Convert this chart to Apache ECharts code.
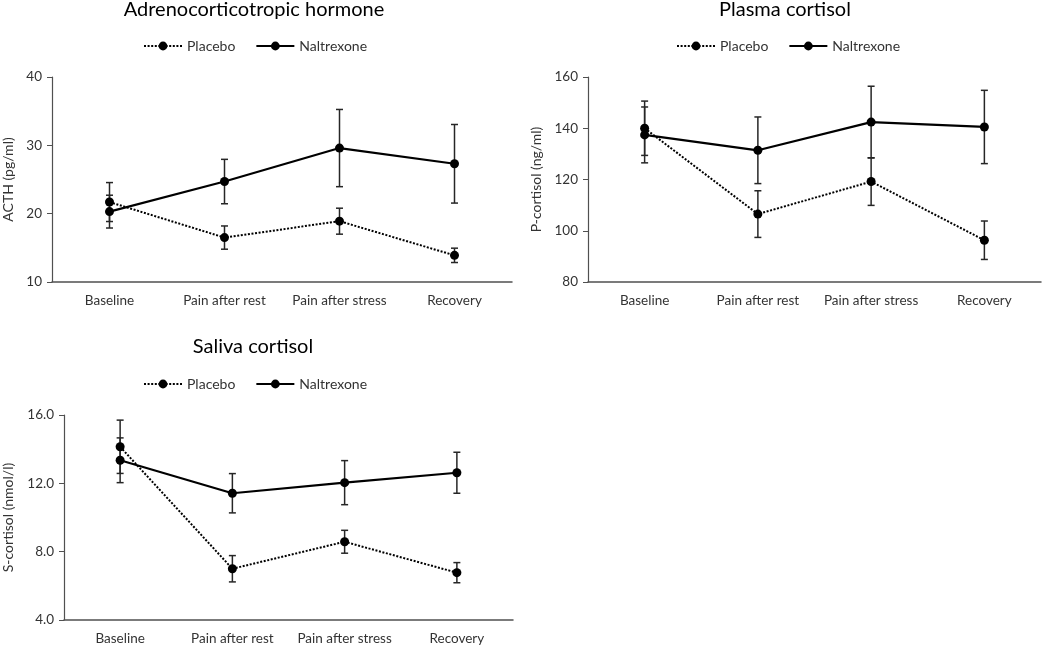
<!DOCTYPE html>
<html>
<head>
<meta charset="utf-8">
<script src="https://cdn.jsdelivr.net/npm/echarts@6/dist/echarts.min.js"></script>
<style>html,body{margin:0;padding:0;background:#fff}#c{width:1050px;height:648px}</style>
</head>
<body>
<div id="c"></div>
<script>
const categories = ['Baseline', 'Pain after rest', 'Pain after stress', 'Recovery'];
const seriesNames = ['Placebo', 'Naltrexone'];

const acthPlacebo = [21.7, 16.5, 18.9, 13.9];
const acthPlaceboErr = [2.85, 1.7, 1.9, 1.05];
const acthNaltrexone = [20.3, 24.7, 29.6, 27.3];
const acthNaltrexoneErr = [2.4, 3.25, 5.65, 5.75];

const pcPlacebo = [140.0, 106.5, 119.2, 96.3];
const pcPlaceboErr = [10.6, 9.1, 9.3, 7.5];
const pcNaltrexone = [137.4, 131.4, 142.4, 140.5];
const pcNaltrexoneErr = [10.9, 13.0, 14.0, 14.3];

const scPlacebo = [14.14, 7.0, 8.58, 6.77];
const scPlaceboErr = [1.56, 0.77, 0.67, 0.59];
const scNaltrexone = [13.35, 11.42, 12.04, 12.62];
const scNaltrexoneErr = [1.31, 1.15, 1.29, 1.2];

const yTicks1 = [10, 40, 10];
const yTicks2 = [80, 160, 20];
const yTicks3 = [4, 16, 4];

const FONT = 'Lato';
const AXIS_COLOR = '#505050';
const TEXT_COLOR = '#333333';

function errData(mean, err) {
  return mean.map((m, i) => [i, m - err[i], m + err[i]]);
}
function errRender(params, api) {
  const x = api.value(0);
  const lo = api.coord([x, api.value(1)]);
  const hi = api.coord([x, api.value(2)]);
  const hw = 3.5;
  const style = { stroke: '#262626', lineWidth: 1.5, fill: null };
  return {
    type: 'group',
    children: [
      { type: 'line', shape: { x1: lo[0], y1: lo[1], x2: hi[0], y2: hi[1] }, style },
      { type: 'line', shape: { x1: lo[0] - hw, y1: lo[1], x2: lo[0] + hw, y2: lo[1] }, style },
      { type: 'line', shape: { x1: hi[0] - hw, y1: hi[1], x2: hi[0] + hw, y2: hi[1] }, style }
    ]
  };
}

const grids = [
  { left: 45, top: 77, width: 467, height: 205 },
  { left: 588, top: 77, width: 453, height: 205 },
  { left: 57, top: 415, width: 456, height: 205 }
];
const yNames = ['ACTH (pg/ml)', 'P-cortisol (ng/ml)', 'S-cortisol (nmol/l)'];
const yGaps = [37, 45, 49];
const yTicks = [yTicks1, yTicks2, yTicks3];
const titles = ['Adrenocorticotropic hormone', 'Plasma cortisol', 'Saliva cortisol'];
const titlePos = [[254, 0], [785, 0], [253, 337]];
const legendPos = [[143, 39], [676, 39], [143, 377]];
const dataSets = [
  [acthPlacebo, acthPlaceboErr, acthNaltrexone, acthNaltrexoneErr],
  [pcPlacebo, pcPlaceboErr, pcNaltrexone, pcNaltrexoneErr],
  [scPlacebo, scPlaceboErr, scNaltrexone, scNaltrexoneErr]
];

const option = {
  animation: false,
  backgroundColor: '#fff',
  textStyle: { fontFamily: FONT },
  title: titles.map((t, i) => ({
    text: t, left: titlePos[i][0], top: titlePos[i][1], textAlign: 'center', padding: 0,
    textStyle: { fontFamily: FONT, fontSize: 20, fontWeight: 'normal', color: '#000' }
  })),
  legend: legendPos.map((p, i) => ({
    data: seriesNames, left: p[0], top: p[1], itemWidth: 38, itemHeight: 11, itemGap: 20,
    padding: 0, selectedMode: false,
    textStyle: { fontFamily: FONT, fontSize: 14, color: TEXT_COLOR }
  })),
  grid: grids.map(g => Object.assign({ containLabel: false }, g)),
  xAxis: grids.map((g, i) => ({
    type: 'category', gridIndex: i, data: categories, boundaryGap: true,
    axisLine: { lineStyle: { color: AXIS_COLOR, width: 1.5 } },
    axisTick: { show: false },
    axisLabel: { color: TEXT_COLOR, fontSize: 13.5, fontFamily: FONT, margin: 12, interval: 0 }
  })),
  yAxis: grids.map((g, i) => ({
    type: 'value', gridIndex: i, min: yTicks[i][0], max: yTicks[i][1], interval: yTicks[i][2],
    name: yNames[i], nameLocation: 'middle', nameGap: yGaps[i],
    nameTextStyle: { color: TEXT_COLOR, fontSize: 14, fontFamily: FONT },
    axisLine: { show: true, lineStyle: { color: AXIS_COLOR, width: 1.2 } },
    axisTick: { show: true, length: 5, lineStyle: { color: AXIS_COLOR } },
    splitLine: { show: false },
    axisLabel: {
      color: TEXT_COLOR, fontSize: 13.5, fontFamily: FONT, margin: 10,
      formatter: i === 2 ? (v => v.toFixed(1)) : (v => String(v))
    }
  })),
  series: []
};

dataSets.forEach((d, i) => {
  option.series.push({
    type: 'custom', xAxisIndex: i, yAxisIndex: i, renderItem: errRender,
    data: errData(d[0], d[1]), z: 1, silent: true
  });
  option.series.push({
    type: 'custom', xAxisIndex: i, yAxisIndex: i, renderItem: errRender,
    data: errData(d[2], d[3]), z: 1, silent: true
  });
  option.series.push({
    name: 'Placebo', type: 'line', xAxisIndex: i, yAxisIndex: i, data: d[0],
    symbol: 'circle', symbolSize: 9, z: 3,
    itemStyle: { color: '#000' },
    lineStyle: { color: '#000', width: 2, type: [2, 1.6] }
  });
  option.series.push({
    name: 'Naltrexone', type: 'line', xAxisIndex: i, yAxisIndex: i, data: d[2],
    symbol: 'circle', symbolSize: 9, z: 3,
    itemStyle: { color: '#000' },
    lineStyle: { color: '#000', width: 2.2, type: 'solid' }
  });
});

const chart = echarts.init(document.getElementById('c'), null, { renderer: 'canvas' });
chart.setOption(option);
</script>
</body>
</html>
